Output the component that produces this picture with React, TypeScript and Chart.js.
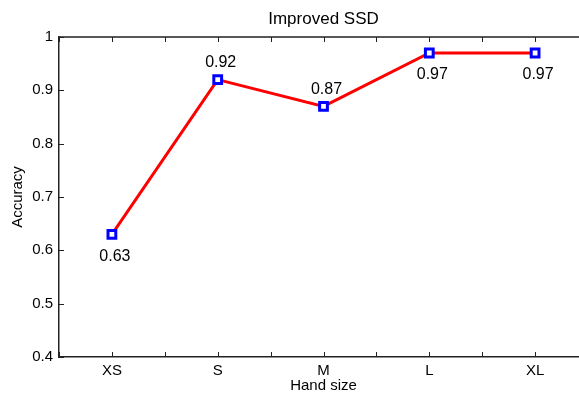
import React, { useEffect, useRef } from "react";
import { Chart, registerables } from "chart.js";

Chart.register(...registerables);

const categories = ["XS", "S", "M", "L", "XL"];
const accuracy = [0.63, 0.92, 0.87, 0.97, 0.97];
const labelSide = ["below", "above", "above", "below", "below"];
const yTicks = [0.4, 0.5, 0.6, 0.7, 0.8, 0.9, 1];

const FONT = '"Liberation Sans", Arial, Helvetica, sans-serif';
const AXIS_COLOR = "#222";

const decorPlugin = {
  id: "decor",
  afterDraw(chart: any) {
    const { ctx, chartArea } = chart;
    const xs = chart.scales.x;
    const ys = chart.scales.y;
    ctx.save();
    ctx.strokeStyle = AXIS_COLOR;
    ctx.lineWidth = 1.5;
    // top and right box lines
    ctx.beginPath();
    ctx.moveTo(chartArea.left, chartArea.top);
    ctx.lineTo(chartArea.right, chartArea.top);
    ctx.lineTo(chartArea.right, chartArea.bottom);
    ctx.stroke();
    // inward ticks
    ctx.lineWidth = 1;
    ctx.beginPath();
    xs.ticks.forEach((t: any) => {
      const px = Math.round(xs.getPixelForValue(t.value)) + 0.5;
      ctx.moveTo(px, chartArea.bottom);
      ctx.lineTo(px, chartArea.bottom - 5);
      ctx.moveTo(px, chartArea.top);
      ctx.lineTo(px, chartArea.top + 5);
    });
    ys.ticks.forEach((t: any) => {
      const py = Math.round(ys.getPixelForValue(t.value)) + 0.5;
      ctx.moveTo(chartArea.left, py);
      ctx.lineTo(chartArea.left + 5, py);
    });
    ctx.stroke();
    // title
    ctx.fillStyle = "#000";
    ctx.font = `17px ${FONT}`;
    ctx.textAlign = "center";
    ctx.textBaseline = "middle";
    ctx.fillText("Improved SSD", (chartArea.left + chartArea.right) / 2, 19);
    // data labels
    const meta = chart.getDatasetMeta(0);
    ctx.font = `16px ${FONT}`;
    meta.data.forEach((pt: any, i: number) => {
      const dy = labelSide[i] === "below" ? 22 : -17;
      ctx.fillText(accuracy[i].toFixed(2), pt.x + 3, pt.y + dy);
    });
    ctx.restore();
  },
};

export default function App() {
  const ref = useRef<HTMLCanvasElement>(null);
  useEffect(() => {
    if (!ref.current) return;
    const chart = new Chart(ref.current, {
      type: "line",
      data: {
        datasets: [
          {
            data: accuracy.map((v, i) => ({ x: i + 1, y: v })),
            borderColor: "#ff0000",
            borderWidth: 3,
            tension: 0,
            pointStyle: "rect",
            pointRadius: 5.5,
            pointBorderWidth: 3,
            pointBorderColor: "#0000ff",
            pointBackgroundColor: "#ffffff",
            clip: false as any,
          },
        ],
      },
      plugins: [decorPlugin],
      options: {
        responsive: false,
        animation: false,
        layout: { padding: { top: 37, right: 12, left: 0, bottom: 0 } },
        plugins: {
          legend: { display: false },
          title: { display: false },
          tooltip: { enabled: false },
        },
        scales: {
          x: {
            type: "linear",
            min: 0.5,
            max: 5.5,
            afterFit: (s: any) => {
              s.height = 39;
            },
            afterBuildTicks: (s: any) => {
              const t = [];
              for (let i = 0; i <= categories.length * 2; i++) t.push({ value: 0.5 + i * 0.5 });
              s.ticks = t;
            },
            ticks: {
              autoSkip: false,
              maxRotation: 0,
              padding: 5,
              color: "#000",
              font: { family: FONT, size: 15 },
              callback: (v: any) => {
                const n = Number(v);
                return Number.isInteger(n) && n >= 1 && n <= categories.length ? categories[n - 1] : "";
              },
            },
            grid: { display: true, drawOnChartArea: false, drawTicks: false },
            border: { display: true, color: AXIS_COLOR, width: 1.5 },
            title: {
              display: true,
              text: "Hand size",
              color: "#000",
              font: { family: FONT, size: 15 },
              padding: { top: 0, bottom: 1 },
            },
          },
          y: {
            type: "linear",
            min: 0.4,
            max: 1,
            afterFit: (s: any) => {
              s.width = 59;
            },
            afterBuildTicks: (s: any) => {
              s.ticks = yTicks.map((v) => ({ value: v }));
            },
            ticks: {
              padding: 6,
              color: "#000",
              font: { family: FONT, size: 15 },
              callback: (v: any) => String(Number(Number(v).toFixed(1))),
            },
            grid: { display: true, drawOnChartArea: false, drawTicks: false },
            border: { display: true, color: AXIS_COLOR, width: 1.5 },
            title: {
              display: true,
              text: "Accuracy",
              color: "#000",
              font: { family: FONT, size: 15 },
              padding: { top: 9, bottom: 0 },
            },
          },
        },
      },
    });
    return () => chart.destroy();
  }, []);

  return (
    <div
      style={{
        position: "fixed",
        left: 0,
        top: 0,
        width: 579,
        height: 396,
        overflow: "hidden",
        background: "#fff",
      }}
    >
      <canvas ref={ref} width={600} height={396} style={{ width: 600, height: 396, display: "block" }} />
    </div>
  );
}
